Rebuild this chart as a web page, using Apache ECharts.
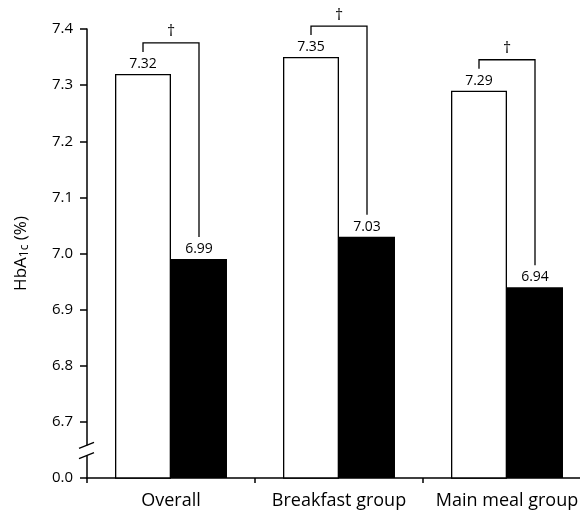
<!DOCTYPE html>
<html>
<head>
<meta charset="utf-8">
<script src="https://cdn.jsdelivr.net/npm/echarts@6.0.0/dist/echarts.min.js"></script>
<style>
  html, body { margin: 0; padding: 0; background: #fff; }
  #chart { width: 580px; height: 511px; }
</style>
</head>
<body>
<div id="chart"></div>
<script>
// data
const categories = ['Overall', 'Breakfast group', 'Main meal group']
const baseline = [7.32, 7.35, 7.29]
const followUp = [6.99, 7.03, 6.94]
const sigMarks = ['\u2020', '\u2020', '\u2020']
// broken axis: bottom tick stands for 0.0
const axisFloor = 6.6
const axisFloorLabel = '0.0'
const axisTop = 7.4

const FONT = '"Open Sans", "DejaVu Sans", sans-serif'
const chart = echarts.init(document.getElementById('chart'))

const renderBracket = (params, api) => {
    const idx = api.value(0)
    const top = api.coord([idx, api.value(1)])
    const low = api.coord([idx, api.value(2)])
    const band = api.size([1, 0])[0]
    const xl = top[0] - band / 6
    const xr = top[0] + band / 6
    const yTop = top[1] - 31
    return {
        type: 'group',
        children: [
            {
                type: 'polyline',
                shape: { points: [[xl, yTop + 9], [xl, yTop], [xr, yTop], [xr, low[1] - 22]] },
                style: { stroke: '#000', lineWidth: 1.3, fill: null }
            },
            {
                type: 'text',
                style: {
                    x: top[0], y: yTop - 11, text: sigMarks[idx],
                    align: 'center', verticalAlign: 'middle',
                    font: '16px ' + FONT, fill: '#000'
                }
            }
        ]
    }
}

chart.setOption({
    animation: false,
    grid: { left: 87, top: 29, width: 504, height: 449, containLabel: false, outerBoundsMode: 'none' },
    xAxis: {
        type: 'category',
        data: categories,
        axisLine: { lineStyle: { color: '#000', width: 1.5 } },
        axisTick: { show: true, length: 5, lineStyle: { color: '#000', width: 1.5 } },
        axisLabel: { color: '#000', fontSize: 18, fontFamily: FONT, margin: 14, interval: 0, hideOverlap: false }
    },
    yAxis: {
        type: 'value',
        min: axisFloor,
        max: axisTop,
        interval: 0.1,
        name: '{a|HbA}{s|1c}{a| (%)}',
        nameLocation: 'middle',
        nameGap: 56,
        nameTextStyle: {
            color: '#000',
            rich: {
                a: { fontSize: 17, fontFamily: FONT, color: '#000' },
                s: { fontSize: 12, fontFamily: FONT, color: '#000', padding: [7, 0, 0, 0] }
            }
        },
        splitLine: { show: false },
        axisLine: { show: true, lineStyle: { color: '#000', width: 1.5 } },
        axisTick: { show: true, inside: false, length: 7, lineStyle: { color: '#000', width: 1.5 } },
        axisLabel: {
            color: '#000', fontSize: 15, fontFamily: FONT, margin: 14,
            formatter: (v) => v < axisFloor + 0.05 ? axisFloorLabel : v.toFixed(1)
        }
    },
    series: [
        {
            name: 'Baseline',
            type: 'bar',
            data: baseline,
            barWidth: '33.33%',
            barGap: '0%',
            clip: true,
            itemStyle: { color: '#fff', borderColor: '#000', borderWidth: 1.3 },
            label: {
                show: true, position: 'top', distance: 3,
                color: '#000', fontSize: 14, fontFamily: FONT,
                formatter: (p) => p.value.toFixed(2)
            }
        },
        {
            name: 'Follow-up',
            type: 'bar',
            data: followUp,
            barWidth: '33.33%',
            clip: true,
            itemStyle: { color: '#000' },
            label: {
                show: true, position: 'top', distance: 3,
                color: '#000', fontSize: 14, fontFamily: FONT,
                formatter: (p) => p.value.toFixed(2)
            }
        },
        {
            type: 'custom',
            renderItem: renderBracket,
            encode: { x: 0, y: 1 },
            data: categories.map((c, i) => [i, baseline[i], followUp[i]]),
            z: 5
        }
    ]
})

// break marks on the y axis, placed from the axis scale
const drawBreak = () => {
    const p1 = chart.convertToPixel({ gridIndex: 0 }, [0, axisFloor + 0.04])
    const p2 = chart.convertToPixel({ gridIndex: 0 }, [0, axisFloor + 0.058])
    const ax = 87
    chart.setOption({
        graphic: [
            { type: 'rect', shape: { x: ax - 3, y: p2[1], width: 6, height: p1[1] - p2[1] }, style: { fill: '#fff' }, z: 100 },
            { type: 'line', shape: { x1: ax - 8, y1: p1[1] + 3, x2: ax + 7, y2: p1[1] - 3 }, style: { stroke: '#000', lineWidth: 1.3 }, z: 101 },
            { type: 'line', shape: { x1: ax - 8, y1: p2[1] + 3, x2: ax + 7, y2: p2[1] - 3 }, style: { stroke: '#000', lineWidth: 1.3 }, z: 101 }
        ]
    })
}
drawBreak()
</script>
</body>
</html>
